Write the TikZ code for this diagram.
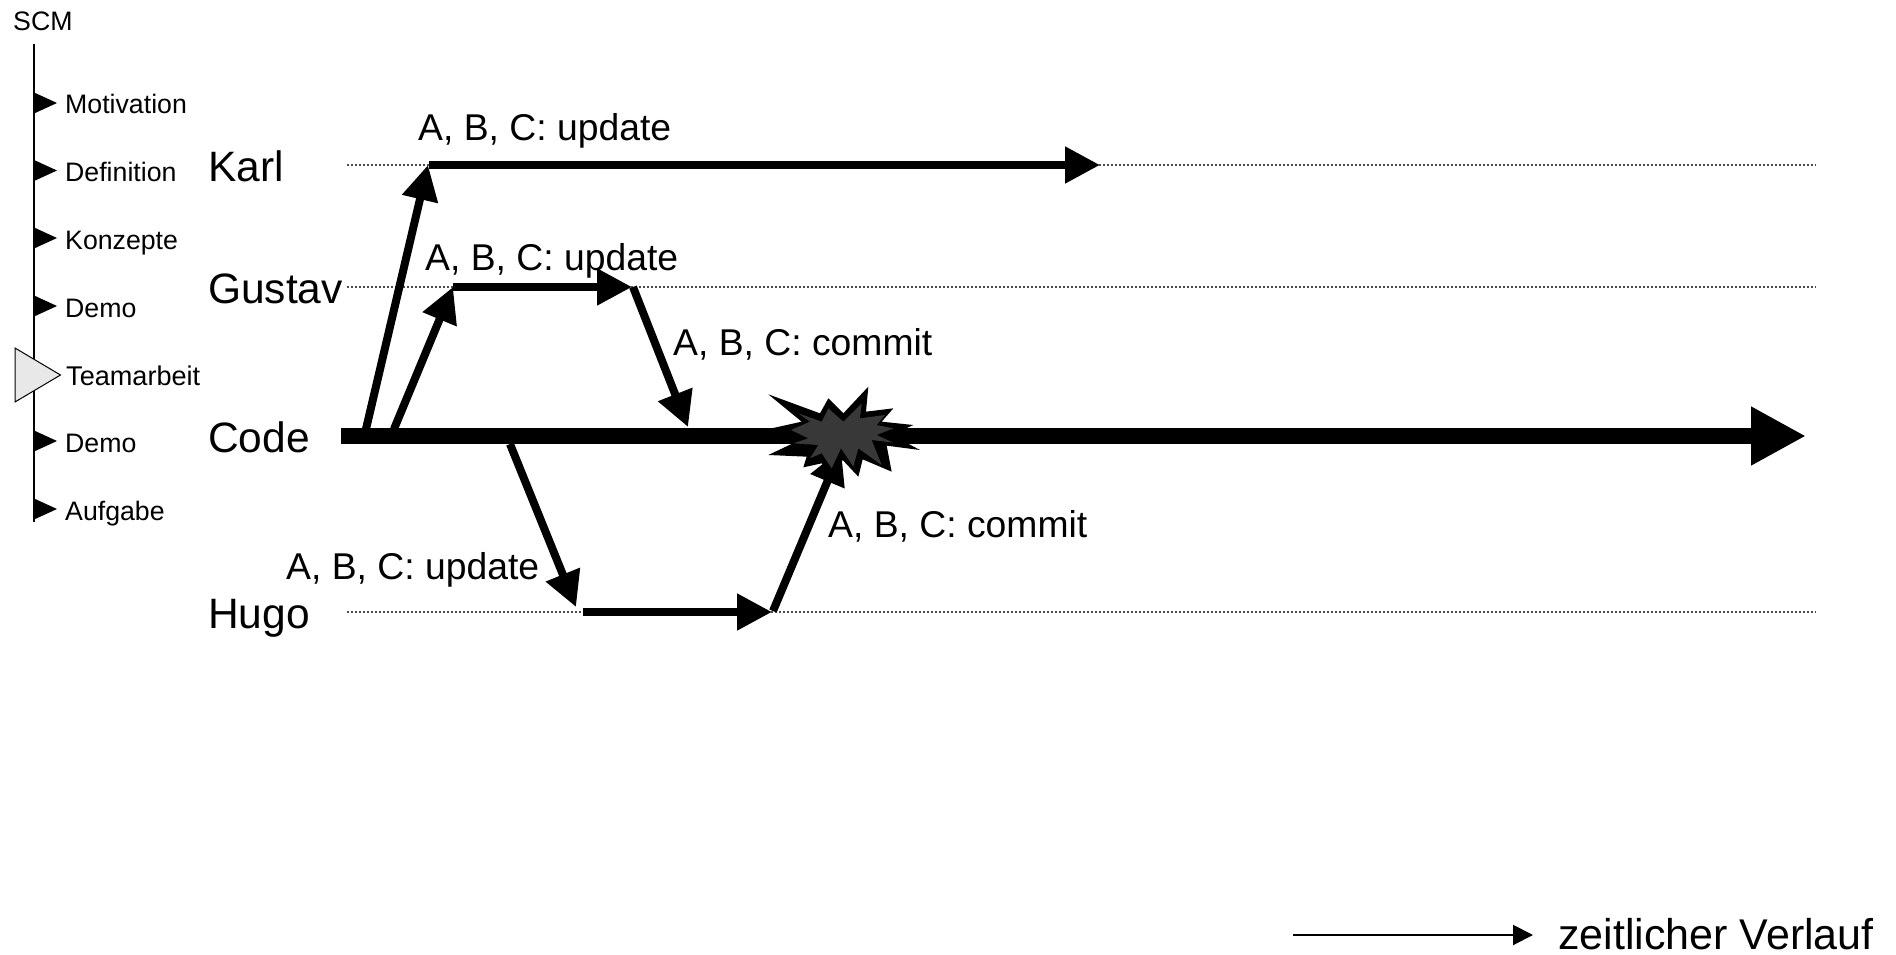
\documentclass[tikz,border=0pt]{standalone}
\usepackage{fontspec}
\setmainfont{Liberation Sans}
\usetikzlibrary{arrows.meta}
\definecolor{burstgray}{HTML}{383838}
\tikzset{x=1pt,y=-1pt,
 big/.style={font=\fontsize{42.5}{42.5}\selectfont,anchor=base west,inner sep=0pt},
 mid/.style={font=\fontsize{37.3}{37.3}\selectfont,anchor=base west,inner sep=0pt},
 small/.style={font=\fontsize{26.7}{26.7}\selectfont,anchor=base west,inner sep=0pt},
 lane/.style={line width=1.3pt,dash pattern=on 1.5pt off 2.5pt,black!70},
 flow/.style={line width=8pt,-{Triangle[length=35pt,width=35pt]}},
 mainflow/.style={line width=16pt,-{Triangle[length=55pt,width=55pt]}}}
\begin{document}
\begin{tikzpicture}
\useasboundingbox (0,0) rectangle (1896,955);
% navigation
\coordinate (navtop) at (34,44); \coordinate (navbot) at (34,522);
\draw[line width=2pt] (navtop) -- (navbot);
\node[small] (scm) at (13,31) {SCM};
\foreach \y in {103,170.5,238,306,441,509}{
 \fill (33,\y-11) -- (57,\y) -- (33,\y+11) -- cycle;
}
\node[small] (m1) at (65,113.5) {Motivation};
\node[small] (m2) at (65,182) {Definition};
\node[small] (m3) at (65,249) {Konzepte};
\node[small] (m4) at (65,317) {Demo};
\node[small,font=\fontsize{27.1}{27.1}\selectfont] (m5) at (66,385) {Teamarbeit};
\node[small] (m6) at (65,452.5) {Demo};
\node[small] (m7) at (65,520) {Aufgabe};
\draw[fill=black!9,line width=1pt] (15,348) -- (60.5,375) -- (15,402) -- cycle;
% names
\node[big] (karl) at (208,182) {Karl};
\node[big] (gustav) at (208,303) {Gustav};
\node[big] (code) at (208,452) {Code};
\node[big] (hugo) at (208,628) {Hugo};
% lanes
\coordinate (k0) at (347,165); \coordinate (k1) at (1816,165);
\coordinate (g0) at (347,287); \coordinate (g1) at (1816,287);
\coordinate (h0) at (347,612); \coordinate (h1) at (1816,612);
\draw[lane] (k0) -- (k1); \draw[lane] (g0) -- (g1); \draw[lane] (h0) -- (h1);
% main
\coordinate (c0) at (341,436); \coordinate (c1) at (1806,436);
\draw[mainflow] (c0) -- (c1);
% flows
\coordinate (ka) at (366,429); \coordinate (kb) at (428,165); \coordinate (kc) at (429,165); \coordinate (kd) at (1100,165);
\draw[flow] (ka) -- (kb);
\draw[flow] (kc) -- (kd);
\coordinate (ga) at (394,429); \coordinate (gb) at (453,287); \coordinate (gc) at (453,287); \coordinate (gd) at (632,287);
\draw[flow] (ga) -- (gb);
\draw[flow] (gc) -- (gd);
\coordinate (ge) at (633,287); \coordinate (gf) at (688,427);
\draw[flow] (ge) -- (gf);
\coordinate (ha) at (510,444); \coordinate (hb) at (576,607);
\coordinate (hc) at (583,612); \coordinate (hd) at (772,612);
\coordinate (he) at (773,611); \coordinate (hf) at (841,449);
\draw[flow] (ha) -- (hb);
\draw[flow] (hc) -- (hd);
\draw[flow] (he) -- (hf);
% burst
\begin{scope}[shift={(765,380)},scale=1/3]
\fill[black] (10,43) -- (165,100) -- (190,55) -- (235,100) -- (310,20) -- (303,95) -- (385,85) -- (350,125) -- (445,135) -- (380,165) -- (465,210) -- (365,197) -- (380,275) -- (293,238) -- (280,290) -- (233,240) -- (200,290) -- (170,250) -- (115,262) -- (125,230) -- (10,225) -- (105,180) -- (20,145) -- (110,125) -- cycle;
\fill[burstgray] (78,150) -- (135,125) -- (100,100) -- (170,125) -- (190,85) -- (235,125) -- (290,70) -- (285,115) -- (360,105) -- (335,135) -- (385,145) -- (335,165) -- (385,188) -- (320,180) -- (350,255) -- (280,205) -- (265,260) -- (228,205) -- (200,265) -- (170,220) -- (135,235) -- (160,195) -- (85,190) -- (130,175) -- cycle;
\end{scope}
% labels
\node[mid] (l1) at (418,140.5) {A, B, C: update};
\node[mid] (l2) at (425,270) {A, B, C: update};
\node[mid] (l3) at (673,355) {A, B, C: commit};
\node[mid] (l4) at (286,579) {A, B, C: update};
\node[mid] (l5) at (828,537) {A, B, C: commit};
% legend
\coordinate (t0) at (1293,935); \coordinate (t1) at (1533,935);
\draw[line width=2pt,-{Triangle[length=20pt,width=20pt]}] (t0) -- (t1);
\node[big,font=\fontsize{43}{43}\selectfont] (zv) at (1558,949.5) {zeitlicher Verlauf};
\end{tikzpicture}
\end{document}
